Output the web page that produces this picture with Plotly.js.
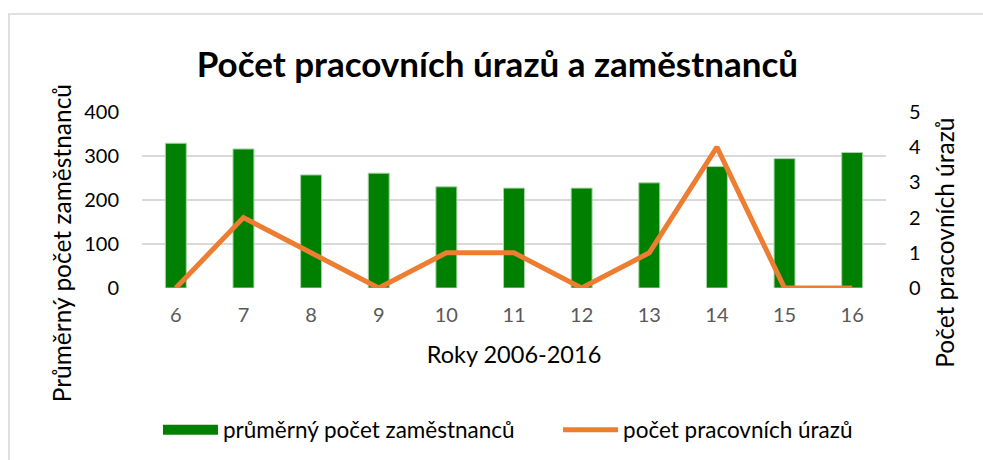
<!DOCTYPE html>
<html><head><meta charset="utf-8">
<script src="https://cdn.plot.ly/plotly-3.0.1.min.js"></script>
<style>
html,body{margin:0;padding:0;background:#fff;overflow:hidden;}
#wrap{position:relative;width:983px;height:460px;overflow:hidden;}
#frame{position:absolute;left:8px;top:13px;width:1100px;height:600px;border:2px solid #e0e0e0;pointer-events:none;}
#chart{position:absolute;left:0;top:0;width:983px;height:460px;}
</style></head>
<body><div id="wrap"><div id="chart"></div><div id="frame"></div></div>
<script>
var years = ['6','7','8','9','10','11','12','13','14','15','16'];
var employees = [329, 316, 257, 261, 230, 227, 227, 239, 276, 294, 308];
var injuries = [0, 2, 1, 0, 1, 1, 0, 1, 4, 0, 0];
var seriesNames = ['průměrný počet zaměstnanců', 'počet pracovních úrazů'];
var titleText = 'Počet pracovních úrazů a zaměstnanců';
var xTitle = 'Roky 2006-2016';
var yTitle = 'Průměrný počet zaměstnanců';
var y2Title = 'Počet pracovních úrazů';

var F = 'Lato, "Open Sans", sans-serif';
var GREEN = '#008000', ORANGE = '#ED7D31';
var data = [
  {type:'bar', x:years, y:employees, name:seriesNames[0], showlegend:false,
   marker:{color:GREEN, line:{color:'#a9d5a9', width:1}}, width:0.31, yaxis:'y'},
  // legend swatch for the bar series (no data drawn)
  {type:'scatter', mode:'lines', x:[null], y:[null], name:seriesNames[0],
   line:{color:GREEN, width:10}, yaxis:'y', hoverinfo:'skip', legend:'legend'},
  {type:'scatter', mode:'lines', x:years, y:injuries, name:seriesNames[1],
   line:{color:ORANGE, width:5}, yaxis:'y2', legend:'legend2'}
];
var legFont = {family:F, size:22.5, color:'#000'};
var layout = {
  width:983, height:460,
  margin:{l:142, r:97, t:112, b:172},
  paper_bgcolor:'rgba(0,0,0,0)', plot_bgcolor:'rgba(0,0,0,0)',
  showlegend:true,
  title:{text:'<b>'+titleText+'</b>', x:0.506, xanchor:'center', y:0.86, yanchor:'middle',
         font:{family:F, size:35, color:'#000'}},
  xaxis:{type:'category', tickfont:{family:F, size:20, color:'#595959'}, showgrid:false, zeroline:false,
         showline:false, ticks:'', ticklabelstandoff:13,
         title:{text:xTitle, font:{family:F, size:23.5, color:'#000'}, standoff:21}},
  yaxis:{range:[0,400], dtick:100, tickfont:{family:F, size:20, color:'#000'}, gridcolor:'#d9d9d9', gridwidth:1.5,
         zeroline:false, showline:false, ticks:'', ticklabelstandoff:22},
  yaxis2:{range:[0,5], dtick:1, overlaying:'y', side:'right', showgrid:false, zeroline:false,
          tickfont:{family:F, size:20, color:'#000'}, ticks:'', ticklabelstandoff:22},
  annotations:[
    {text:yTitle, textangle:-90, xref:'paper', yref:'paper', x:-0.107, y:0.256, xanchor:'center', yanchor:'middle',
     showarrow:false, font:{family:F, size:24.5, color:'#000'}},
    {text:y2Title, textangle:-90, xref:'paper', yref:'paper', x:1.079, y:0.256, xanchor:'center', yanchor:'middle',
     showarrow:false, font:{family:F, size:24.5, color:'#000'}}
  ],
  legend:{orientation:'h', xref:'container', yref:'container', x:0.1607, xanchor:'left', y:0.0652, yanchor:'middle',
          font:legFont, itemwidth:55, bgcolor:'rgba(0,0,0,0)'},
  legend2:{orientation:'h', xref:'container', yref:'container', x:0.5677, xanchor:'left', y:0.0652, yanchor:'middle',
          font:legFont, itemwidth:55, bgcolor:'rgba(0,0,0,0)'},
  bargap:0.69
};
Plotly.newPlot('chart', data, layout, {staticPlot:true, displayModeBar:false});
</script></body></html>
